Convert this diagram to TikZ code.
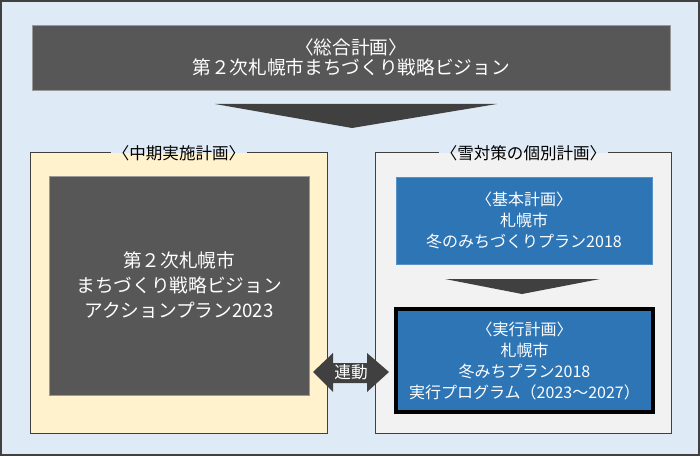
\documentclass[tikz,border=0pt]{standalone}
\usepackage{fontspec}
\setmainfont{Noto Sans CJK JP}
\definecolor{bgblue}{HTML}{DEEBF7}
\definecolor{darkbox}{HTML}{575757}
\definecolor{arrowgray}{HTML}{404040}
\definecolor{planblue}{HTML}{2E75B6}
\definecolor{lightyellow}{HTML}{FFF2CC}
\definecolor{lightgray}{HTML}{F2F2F2}
\definecolor{framegray}{HTML}{404040}
\begin{document}
\begin{tikzpicture}[x=0.75pt,y=-0.75pt,
  darkpanel/.style={rectangle,fill=darkbox,draw=gray!80,line width=0.5pt,text=white,align=center,inner sep=0pt},
  bluepanel/.style={rectangle,fill=planblue,draw=planblue!80!white,line width=0.5pt,text=white,align=center,inner sep=0pt,font=\fontsize{12}{15.75}\selectfont},
  grouptitle/.style={inner sep=1pt,font=\fontsize{12.4}{14}\selectfont,text=black},
  chevron/.style={fill=arrowgray,draw=none}]
% background
\path[fill=bgblue,draw=framegray,line width=1.5pt] (1,1) rectangle (699,455);
\useasboundingbox (0,0) rectangle (700,456);

% top box
\node[darkpanel,minimum width=478.5pt,minimum height=48.75pt,font=\fontsize{14}{15}\selectfont] (top) at (351,57.5)
  {〈総合計画〉\\第２次札幌市まちづくり戦略ビジョン};

% big chevron
\coordinate (c1l) at (215,104);
\coordinate (c1r) at (497,104);
\coordinate (c1p) at (352,128);
\fill[chevron] (c1l) -- (c1r) -- (c1p) -- cycle;

% left group
\node[rectangle,fill=lightyellow,minimum width=222pt,minimum height=210pt,inner sep=0pt] (leftgrp) at (179,293) {};
\node[grouptitle] (lefttitle) at (179,153) {〈中期実施計画〉};
\draw[framegray,line width=0.9pt] (lefttitle.east |- leftgrp.north) -- (leftgrp.north east) -- (leftgrp.south east) -- (leftgrp.south west) -- (leftgrp.north west) -- (lefttitle.west |- leftgrp.north);
\node[darkpanel,minimum width=195pt,minimum height=164.25pt,font=\fontsize{14}{18.75}\selectfont] (action) at (179,285.5)
  {第２次札幌市\\まちづくり戦略ビジョン\\アクションプラン2023};

% right group
\node[rectangle,fill=lightgray,minimum width=221.25pt,minimum height=210pt,inner sep=0pt] (rightgrp) at (523.5,293) {};
\node[grouptitle] (righttitle) at (523.5,153) {〈雪対策の個別計画〉};
\draw[framegray,line width=0.9pt] (righttitle.east |- rightgrp.north) -- (rightgrp.north east) -- (rightgrp.south east) -- (rightgrp.south west) -- (rightgrp.north west) -- (righttitle.west |- rightgrp.north);

\node[bluepanel,minimum width=192pt,minimum height=65.25pt] (basic) at (524,220.5)
  {〈基本計画〉\\札幌市\\冬のみちづくりプラン2018};

\coordinate (c2l) at (445,279);
\coordinate (c2r) at (600,279);
\coordinate (c2p) at (522,294);
\fill[chevron] (c2l) -- (c2r) -- (c2p) -- cycle;

\node[bluepanel,draw=black,line width=3pt,minimum width=192.75pt,minimum height=77.25pt] (exec) at (524.5,360.5)
  {〈実行計画〉\\札幌市\\冬みちプラン2018\\実行プログラム（2023～2027）};

% double arrow
\fill[arrowgray] (313,372) -- (333,353) -- (333,363) -- (367,363) -- (367,353) -- (389,372)
  -- (367,392) -- (367,383) -- (333,383) -- (333,392) -- cycle;
\node[text=white,inner sep=0pt,font=\fontsize{12.5}{14}\selectfont] (link) at (351,372) {連動};
\end{tikzpicture}
\end{document}
